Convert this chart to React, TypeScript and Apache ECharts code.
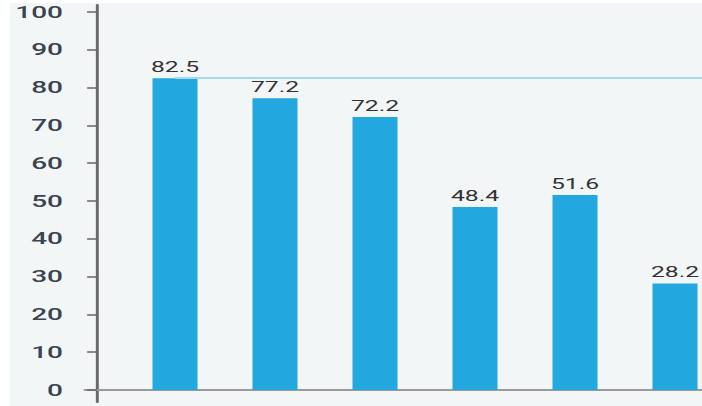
import React, { useEffect, useRef } from "react";
import * as echarts from "echarts";

const categories = ["A", "B", "C", "D", "E", "F"];
const values = [82.5, 77.2, 72.2, 48.4, 51.6, 28.2];
const yMin = 0;
const yMax = 100;
const yStep = 10;

const S = 692 / 420; // horizontal stretch of the reference

export default function App() {
  const ref = useRef<HTMLDivElement>(null);
  useEffect(() => {
    if (!ref.current) return;
    const chart = echarts.init(ref.current, undefined, { renderer: "svg" });
    const yBase = {
      type: "value" as const,
      gridIndex: 0,
      min: yMin,
      max: yMax,
      interval: yStep,
      offset: 17,
      axisLine: { show: false },
      splitLine: { show: false },
    };
    chart.setOption({
      animation: false,
      backgroundColor: "#f3f6f7",
      grid: [
        { left: 115 / S, top: 9, width: 600 / S, height: 378 },
        { left: 75 / S, top: 2, width: 400, height: 397 },
      ],
      xAxis: [
        {
          type: "category",
          gridIndex: 0,
          data: categories,
          axisLine: { show: false },
          axisTick: { show: false },
          axisLabel: { show: false },
        },
        {
          type: "value",
          gridIndex: 1,
          min: 0,
          max: 1,
          offset: -12,
          axisLine: { show: true, onZero: false, lineStyle: { color: "#9a9a9a", width: 2 } },
          axisTick: { show: false },
          axisLabel: { show: false },
          splitLine: { show: false },
        },
      ],
      yAxis: [
        {
          ...yBase,
          axisTick: { show: true, length: 6, lineStyle: { color: "#666", width: 1.5 } },
          axisLabel: {
            margin: 34 / S,
            color: "#3a4450",
            fontSize: 17,
            fontWeight: 500,
            fontFamily: "Roboto",
          },
        },
        {
          ...yBase,
          axisTick: { show: true, inside: true, length: 6, lineStyle: { color: "#666", width: 1.5 } },
          axisLabel: { show: false },
        },
        {
          type: "value",
          gridIndex: 1,
          min: 0,
          max: 1,
          offset: -(87 / S - 75 / S),
          axisLine: { show: true, lineStyle: { color: "#6a6a6a", width: 1.8 } },
          axisTick: { show: false },
          axisLabel: { show: false },
          splitLine: { show: false },
        },
      ],
      series: [
        {
          type: "bar",
          xAxisIndex: 0,
          yAxisIndex: 0,
          data: values,
          barWidth: 45 / S,
          itemStyle: { color: "#22a7df" },
          label: {
            show: true,
            position: "top",
            distance: 4,
            color: "#333",
            fontSize: 15,
            fontFamily: "Roboto",
          },
          markLine: {
            silent: true,
            symbol: "none",
            label: { show: false },
            lineStyle: { color: "#a8d8f0", width: 2, type: "solid" },
            data: [[{ type: "max" }, { x: "100%", yAxis: Math.max(...values) }]],
          },
        },
      ],
    });
    return () => chart.dispose();
  }, []);
  return (
    <div
      style={{
        position: "fixed",
        left: 0,
        top: 0,
        width: 702,
        height: 406,
        background: "#ffffff",
        overflow: "hidden",
      }}
    >
      <div
        ref={ref}
        style={{
          position: "absolute",
          left: 10,
          top: 3,
          width: 480,
          height: 403,
          transform: `scaleX(${S})`,
          transformOrigin: "0 0",
        }}
      />
    </div>
  );
}
